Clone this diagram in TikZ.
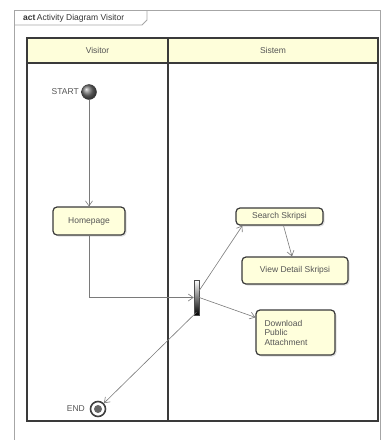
\documentclass[tikz,border=0pt]{standalone}
\usepackage{fontspec}
\setmainfont{Liberation Sans}
\usetikzlibrary{arrows.meta,shadows,positioning}
\definecolor{lanec}{HTML}{3A3A3A}
\definecolor{linec}{HTML}{7A7A7A}
\definecolor{txtc}{HTML}{555555}
\definecolor{boxfill}{HTML}{FFFFDC}
\definecolor{headfill}{HTML}{FEFEDA}
\tikzset{
  actbox/.style={draw=lanec, line width=1.2pt, rounded corners=4pt, fill=boxfill,
    drop shadow={shadow xshift=1.5pt, shadow yshift=-1.5pt, opacity=0.25},
    font=\fontsize{8.5}{9.5}\selectfont, text=txtc, inner sep=2pt},
  flow/.style={draw=linec, line width=0.6pt, -{Straight Barb[length=5pt,width=7pt]}},
  lbl/.style={font=\fontsize{8.5}{9.5}\selectfont, text=txtc, inner sep=1pt},
}
\begin{document}
\begin{tikzpicture}[x=1pt,y=-1pt]
\useasboundingbox (0,0) rectangle (381,440);
% outer frame
\draw[draw=gray!70, line width=0.8pt] (14,440) -- (14,10) -- (381,10);
\draw[draw=gray!70, line width=0.8pt] (380,10) -- (380,440);
\draw[draw=gray!70, line width=0.8pt] (14,25) -- (142,25) -- (147,20) -- (147,10);
\node[anchor=west, font=\fontsize{8.5}{9.5}\selectfont, text=black!80, inner sep=0pt] (title) at (23,18) {\textbf{act}\,Activity Diagram Visitor};
% lanes
\fill[headfill] (27,38) rectangle (378,63);
\draw[draw=lanec, line width=1.2pt] (27,38) rectangle (378,421);
\draw[draw=lanec, line width=1.2pt] (27,63) -- (378,63);
\draw[draw=lanec, line width=1.2pt] (168,38) -- (168,421);
\node[lbl] (visitor) at (97.5,50.5) {Visitor};
\node[lbl] (sistem) at (273,50.5) {Sistem};
% start / end
\node[circle, minimum size=15pt, inner sep=0pt, shading=ball, ball color=black!55, draw=black!80] (start) at (89,92) {};
\node[lbl, anchor=east] (startlbl) at (80,92) {START};
\node[circle, minimum size=15pt, inner sep=0pt, draw=black!75, line width=1.6pt, fill=white] (endc) at (98,409) {};
\fill[black!60] (endc.center) circle (4pt);
\node[lbl, anchor=east] (endlbl) at (86,409) {END};
% activities
\node[actbox, minimum width=72pt, minimum height=28pt] (home) at (89,221) {Homepage};
\node[actbox, minimum width=87pt, minimum height=17pt] (search) at (279.5,216.5) {Search Skripsi};
\node[actbox, minimum width=106pt, minimum height=27pt] (view) at (295,270.5) {View Detail Skripsi};
\node[actbox, minimum width=79pt, minimum height=45pt, align=left, text width=62pt] (down) at (295.5,332.5) {Download\\Public\\Attachment};
% fork bar
\node[rectangle, minimum width=5pt, minimum height=35pt, inner sep=0pt, draw=black!70, line width=0.5pt, top color=white, bottom color=black] (fork) at (196.5,297.5) {};
% connectors
\draw[flow] (start) -- (home.north);
\draw[flow] (home.south) |- (fork.west);
\draw[flow] ([yshift=7pt]fork.east) -- ([xshift=7pt]search.south west);
\draw[flow] ([xshift=4pt]search.south) -- ([xshift=-3pt]view.north);
\draw[flow] (fork.east) -- ([yshift=-8pt]down.north west);
\draw[flow] ([yshift=3pt]fork.south) -- (endc);
\end{tikzpicture}
\end{document}
